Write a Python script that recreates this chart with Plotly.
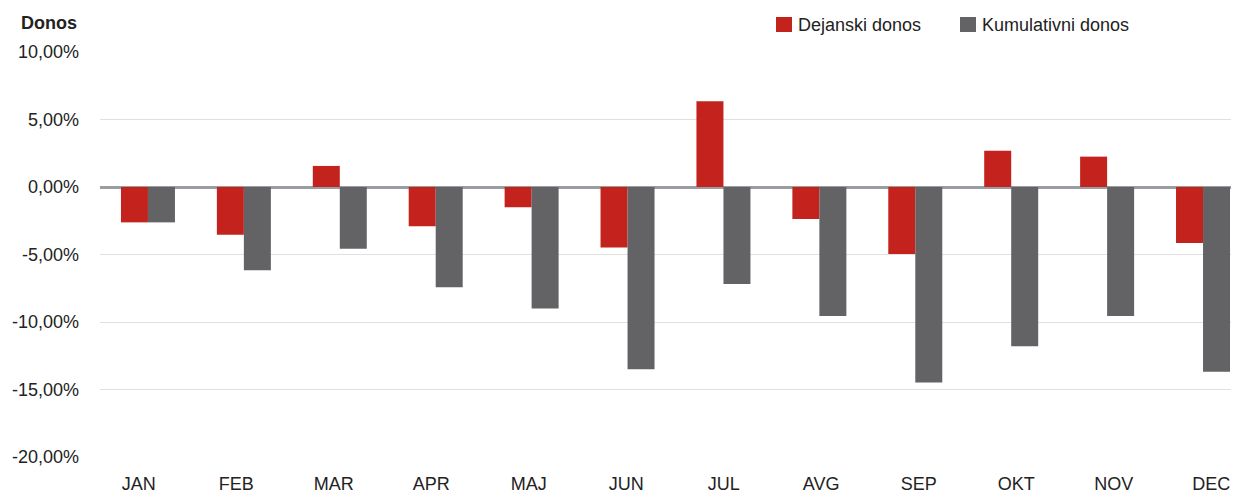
import plotly.graph_objects as go

months = ["JAN", "FEB", "MAR", "APR", "MAJ", "JUN", "JUL", "AVG", "SEP", "OKT", "NOV", "DEC"]
dejanski = [-2.62, -3.53, 1.56, -2.91, -1.5, -4.49, 6.35, -2.37, -4.96, 2.69, 2.25, -4.15]
kumulativni = [-2.62, -6.17, -4.57, -7.43, -9.0, -13.5, -7.18, -9.55, -14.49, -11.8, -9.55, -13.68]
tick_vals = [10, 5, 0, -5, -10, -15, -20]
tick_text = ["10,00%", "5,00%", "0,00%", "-5,00%", "-10,00%", "-15,00%", "-20,00%"]
series_names = ["Dejanski donos", "Kumulativni donos"]
series_colors = ["#C4221C", "#636365"]

# page body has an 8px margin; compensate so the plot lands where the reference has it
OFF = 8
W, H = 1239 - OFF, 493 - OFF
L, R, T, B = 100 - OFF, 0, 52 - OFF, 36
PW, PH = W - L - R, H - T - B


def px(x):
    return (x - OFF - L) / PW


def py(y):
    return (H - B - (y - OFF)) / PH


fig = go.Figure()
for name, vals, col in zip(series_names, [dejanski, kumulativni], series_colors):
    fig.add_trace(go.Bar(x=months, y=vals, name=name,
                         marker=dict(color=col, line=dict(width=0))))
# label-only axis: month labels in the reference are spread slightly wider than the bar groups
fig.add_trace(go.Scatter(x=months, y=[None] * len(months), xaxis="x2", mode="markers",
                         showlegend=False, hoverinfo="skip"))

shapes = []
annotations = [dict(text="<b>Donos</b>", xref="paper", yref="paper",
                    x=px(19), xanchor="left", y=py(23), yanchor="middle",
                    showarrow=False, font=dict(size=18, color="#222222"))]
leg_x = [776, 960]
for lx, name, col in zip(leg_x, series_names, series_colors):
    shapes.append(dict(type="rect", xref="paper", yref="paper",
                       x0=px(lx), x1=px(lx + 16), y0=py(32), y1=py(17),
                       fillcolor=col, line=dict(width=0)))
    annotations.append(dict(text=name, xref="paper", yref="paper",
                            x=px(lx + 20), xanchor="left", y=py(25), yanchor="middle",
                            showarrow=False, font=dict(size=18, color="#222222")))

fig.update_layout(
    width=W, height=H,
    margin=dict(l=L, r=R, t=T, b=B, autoexpand=False),
    paper_bgcolor="white", plot_bgcolor="white",
    font=dict(family="Liberation Sans, Arial, sans-serif", size=18, color="#222222"),
    barmode="group", bargap=0.437, bargroupgap=0,
    showlegend=False,
    shapes=shapes,
    annotations=annotations,
    xaxis=dict(range=[-0.5, 11.375], showgrid=False, showline=False, ticks="",
               showticklabels=False),
    xaxis2=dict(type="category", overlaying="x", side="bottom", anchor="y",
                range=[-0.397, 11.285], showgrid=False, showline=False, zeroline=False,
                ticks="", tickfont=dict(size=18), ticklabelstandoff=14),
    yaxis=dict(range=[-20, 10], tickvals=tick_vals, ticktext=tick_text,
               showgrid=True, gridcolor="#e0e0e0", gridwidth=1,
               zeroline=True, zerolinecolor="#9a9ea2", zerolinewidth=3,
               ticks="", tickfont=dict(size=18), ticklabelstandoff=20),
)
fig.write_html("out.html")
